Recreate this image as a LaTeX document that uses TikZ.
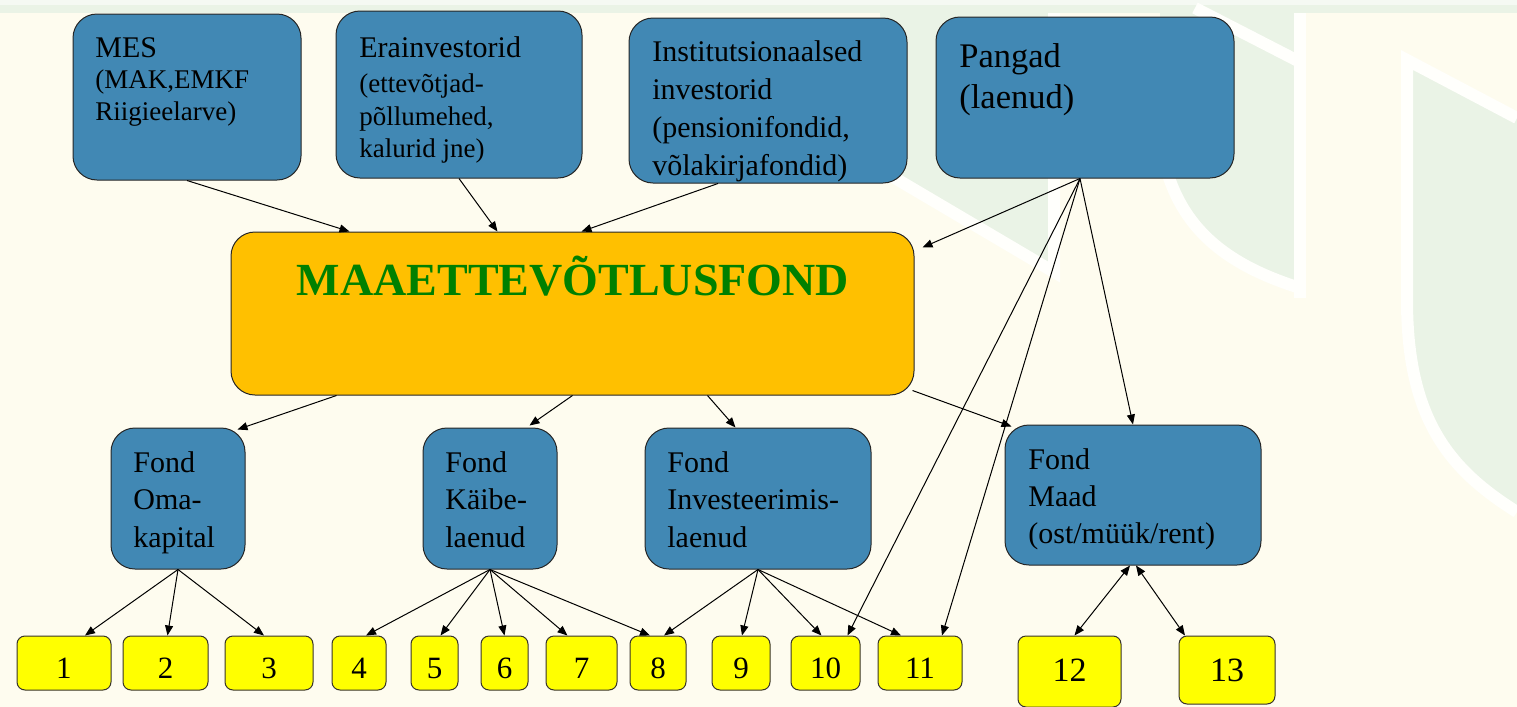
\documentclass[tikz,border=0pt]{standalone}
\usepackage{fontspec}
\setmainfont{Liberation Serif}
\usetikzlibrary{arrows.meta,calc,fit}
\definecolor{bg}{RGB}{254,252,239}
\definecolor{wm}{RGB}{234,243,230}
\definecolor{wst}{RGB}{255,255,252}
\definecolor{blu}{RGB}{65,136,180}
\definecolor{org}{RGB}{255,192,0}
\definecolor{ylw}{RGB}{255,255,0}
\definecolor{grn}{RGB}{0,128,0}
\begin{document}
\begin{tikzpicture}[x=0.5pt,y=-0.5pt,
  bbox/.style={draw=black!85, line width=0.5pt, rounded corners=12pt, fill=blu, inner sep=0pt},
  obox/.style={draw=black!85, line width=0.5pt, rounded corners=12pt, fill=org, inner sep=0pt},
  ybox/.style={draw=black!80!olive, line width=0.5pt, rounded corners=4pt, fill=ylw, inner sep=0pt},
  num/.style={anchor=base, inner sep=0pt, font=\rmfamily\fontsize{15.5}{18}\selectfont},
  numb/.style={anchor=base, inner sep=0pt, font=\rmfamily\fontsize{17}{20}\selectfont},
  tl/.style={anchor=base west, inner sep=0pt, font=\rmfamily\fontsize{15}{18}\selectfont},
  ts/.style={anchor=base west, inner sep=0pt, font=\rmfamily\fontsize{13.5}{16}\selectfont},
  tb/.style={anchor=base west, inner sep=0pt, font=\rmfamily\fontsize{17.25}{20}\selectfont},
  wline/.style={wst, line width=6pt},
  arr/.style={line width=0.5pt, -{Triangle[length=5pt,width=4pt]}},
  dar/.style={line width=0.5pt, {Triangle[length=5pt,width=4pt]}-{Triangle[length=5pt,width=4pt]}}]
\useasboundingbox (0,0) rectangle (1517,707);
% background and faint watermark
\fill[bg] (0,0) rectangle (1517,707);
\fill[white!50!wm] (0,0) rectangle (1517,5);
\fill[wm] (0,5) rectangle (1517,13);
\fill[wm] (880,13) -- (1054,13) -- (1054,272) -- (893,177) -- cycle;
\draw[wline] (893,177) -- (1054,272) -- (1054,13);
\fill[wm] (1160,13) -- (1300,13) -- (1300,286) .. controls (1230,264) and (1186,230) .. (1170,172) -- cycle;
\draw[wline] (1300,288) .. controls (1230,266) and (1184,232) .. (1166,168);
\draw[wline] (1300,13) -- (1300,298);
\draw[wline] (1195,8) -- (1300,62);
\fill[wm] (1407,60) -- (1517,118) -- (1517,512) .. controls (1450,470) and (1407,420) .. (1407,300) -- cycle;
\draw[wline] (1517,118) -- (1407,60) -- (1407,300) .. controls (1407,420) and (1450,470) .. (1517,512);
% top boxes
\node[bbox, fit={(73,14) (301,180)}] (mes) {};
\node[bbox, fit={(336,11) (582,178)}] (era) {};
\node[bbox, fit={(629,18) (907,183)}] (inst) {};
\node[bbox, fit={(936,17) (1234,178)}] (pan) {};
\node[tl] (mes1) at (95,57) {MES};
\node[ts] (mes2) at (95,88) {(MAK,EMKF};
\node[ts] (mes3) at (95,120) {Riigieelarve)};
\node[tl] (era1) at (359,57) {Erainvestorid};
\node[ts] (era2) at (359,92) {(ettevõtjad-};
\node[ts] (era3) at (359,125) {põllumehed,};
\node[ts] (era4) at (359,157) {kalurid jne)};
\node[tl] (inst1) at (652,61) {Institutsionaalsed};
\node[tl] (inst2) at (652,99) {investorid};
\node[tl] (inst3) at (652,137) {(pensionifondid,};
\node[tl] (inst4) at (652,175) {võlakirjafondid)};
\node[tb] (pan1) at (959,67) {Pangad};
\node[tb] (pan2) at (959,108) {(laenud)};
% central fund
\node[obox, fit={(231,232) (914,395)}] (fund) {};
\node[anchor=base, inner sep=0pt, text=grn, font=\rmfamily\fontsize{23}{26}\selectfont\bfseries] (fundT) at (573,295) {MAAETTEVÕTLUSFOND};
% fund boxes
\node[bbox, fit={(111,428) (245,569)}] (oma) {};
\node[bbox, fit={(423,428) (557,569)}] (kai) {};
\node[bbox, fit={(645,428) (871,569)}] (inv) {};
\node[bbox, fit={(1005,425) (1261,565)}] (maad) {};
\node[tl] (oma1) at (133,472) {Fond};
\node[tl] (oma2) at (133,509) {Oma-};
\node[tl] (oma3) at (133,547) {kapital};
\node[tl] (kai1) at (445,472) {Fond};
\node[tl] (kai2) at (445,509) {Käibe-};
\node[tl] (kai3) at (445,547) {laenud};
\node[tl] (inv1) at (667,472) {Fond};
\node[tl] (inv2) at (667,509) {Investeerimis-};
\node[tl] (inv3) at (667,547) {laenud};
\node[tl] (maad1) at (1028,469) {Fond};
\node[tl] (maad2) at (1028,506) {Maad};
\node[tl] (maad3) at (1028,543) {(ost/müük/rent)};
% number boxes
\node[ybox, fit={(17,636) (111,690)}] (n1) {};
\node[ybox, fit={(123,636) (208,690)}] (n2) {};
\node[ybox, fit={(225,636) (313,690)}] (n3) {};
\node[ybox, fit={(332,636) (386,690)}] (n4) {};
\node[ybox, fit={(411,636) (458,690)}] (n5) {};
\node[ybox, fit={(481,636) (528,690)}] (n6) {};
\node[ybox, fit={(546,636) (617,690)}] (n7) {};
\node[ybox, fit={(630,636) (686,690)}] (n8) {};
\node[ybox, fit={(712,636) (770,690)}] (n9) {};
\node[ybox, fit={(791,636) (860,690)}] (n10) {};
\node[ybox, fit={(878,636) (962,690)}] (n11) {};
\node[ybox, fit={(1018,636) (1121,707)}] (n12) {};
\node[ybox, fit={(1179,636) (1275,704)}] (n13) {};
\node[num] (t1) at (n1.center |- 0,678) {1};
\node[num] (t2) at (n2.center |- 0,678) {2};
\node[num] (t3) at (n3.center |- 0,678) {3};
\node[num] (t4) at (n4.center |- 0,678) {4};
\node[num] (t5) at (n5.center |- 0,678) {5};
\node[num] (t6) at (n6.center |- 0,678) {6};
\node[num] (t7) at (n7.center |- 0,678) {7};
\node[num] (t8) at (n8.center |- 0,678) {8};
\node[num] (t9) at (n9.center |- 0,678) {9};
\node[num] (t10) at (n10.center |- 0,678) {10};
\node[num] (t11) at (n11.center |- 0,678) {11};
\node[numb] (t12) at (n12.center |- 0,681) {12};
\node[numb] (t13) at (n13.center |- 0,681) {13};
% connectors into the fund
\draw[arr] (mes.south) -- ($(fund.north west)+(119,0)$);
\draw[arr] (era.south) -- ($(fund.north west)+(267,0)$);
\draw[arr] ($(inst.south)+(-50,0)$) -- ($(fund.north west)+(351,0)$);
\coordinate (pa) at ($(pan.south)+(-5,0)$);
\draw[arr] (pa) -- ($(fund.north east)+(8,16)$);
\draw[arr] (pa) -- ($(n10.north)+(22,0)$);
\draw[arr] (pa) -- ($(n11.north)+(22,0)$);
\draw[arr] (pa) -- (maad.north);
% fund to sub-funds
\draw[arr] ($(fund.south west)+(106,0)$) -- ($(oma.north east)+(-8,2)$);
\draw[arr] ($(fund.south west)+(342,0)$) -- ($(kai.north west)+(107,-2)$);
\draw[arr] ($(fund.south west)+(477,0)$) -- ($(inv.north west)+(91,0)$);
\draw[arr] ($(fund.south east)+(-2,-5)$) -- ($(maad.north west)+(7,2)$);
% sub-funds to numbers
\draw[arr] (oma.south) -- ($(n1.north)+(21,0)$);
\draw[arr] (oma.south) -- ($(n2.north)+(2,0)$);
\draw[arr] (oma.south) -- ($(n3.north)+(-5,0)$);
\draw[arr] (kai.south) -- ($(n4.north)+(7,0)$);
\draw[arr] (kai.south) -- ($(n5.north)+(6,0)$);
\draw[arr] (kai.south) -- (n6.north);
\draw[arr] (kai.south) -- ($(n7.north)+(-14,0)$);
\draw[arr] (kai.south) -- ($(n8.north)+(-8,0)$);
\draw[arr] (inv.south) -- ($(n8.north)+(6,0)$);
\draw[arr] (inv.south) -- ($(n9.north)+(1,0)$);
\draw[arr] (inv.south) -- ($(n10.north)+(-4,0)$);
\draw[arr] (inv.south) -- ($(n11.north)+(-19,0)$);
\draw[dar] ($(maad.south)+(-3,0)$) -- ($(n12.north)+(5,0)$);
\draw[dar] ($(maad.south)+(3,0)$) -- ($(n13.north)+(-42,0)$);
\end{tikzpicture}
\end{document}
